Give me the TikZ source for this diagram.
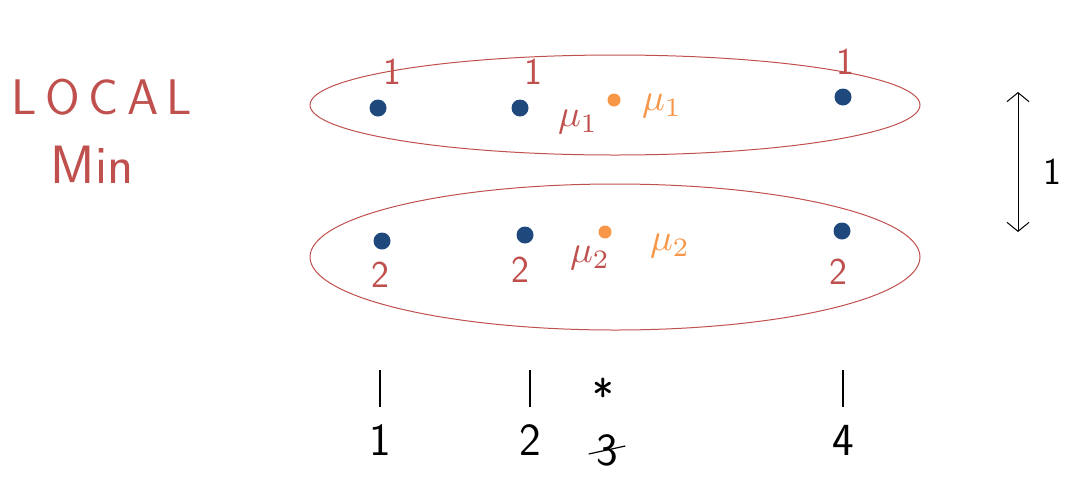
\documentclass[tikz,border=0pt]{standalone}
\usetikzlibrary{arrows.meta}
\definecolor{inkred}{RGB}{192,80,77}
\definecolor{inkblue}{RGB}{31,73,125}
\definecolor{inkorange}{RGB}{247,150,70}
\tikzset{
	cluster/.style={draw=inkred,line width=1pt},
	sample/.style={circle,fill=inkblue,inner sep=0pt,minimum size=17pt},
	centre/.style={circle,fill=inkorange,inner sep=0pt,minimum size=13pt},
	lab/.style={text=inkred,font=\sffamily\fontsize{38}{38}\selectfont},
	mulab/.style={scale=3.8,transform shape,inner sep=0pt},
	axlab/.style={font=\sffamily\fontsize{46}{46}\selectfont}
}
\begin{document}
\begin{tikzpicture}[x=1pt,y=-1pt]
		\useasboundingbox (0,0) rectangle (1068,483);
		% Titre
		\node[text=inkred,font=\sffamily\fontsize{50}{50}\selectfont] (local) at (102,97) {L\,O\,C\,A\,L};
		\node[text=inkred,font=\sffamily\fontsize{54}{54}\selectfont] (min) at (92,165) {Min};

		% Groupes
		\draw[cluster] (615,105) ellipse (305 and 50);
		\draw[cluster] (615,257) ellipse (305 and 73);

		% Points
		\foreach \x/\y/\n in {378/108/a,520/108/b,843/97/c,382/241/d,525/235/e,842/231/f}{
			\node[sample] (p\n) at (\x,\y) {};
			}
		\foreach \x/\y in {392/72,533/72,845/62}{
			\node[lab] at (\x,\y) {1};
			}
		\foreach \x/\y in {380/275,520/270,838/272}{
			\node[lab] at (\x,\y) {2};
			}

		% Centres
		\node[centre] (c1) at (614,100) {};
		\node[centre] (c2) at (605,232) {};
		\node[mulab,text=inkred] (m1) at (578,122) {$\mu_1$};
		\node[mulab,text=inkorange] (o1) at (662,106) {$\mu_1$};
		\node[mulab,text=inkred] (m2) at (590,258) {$\mu_2$};
		\node[mulab,text=inkorange] (o2) at (670,246) {$\mu_2$};

		% Distance
		\coordinate (top) at (1018,92);
		\coordinate (bot) at (1018,232);
		\draw[line width=1pt,{Straight Barb[length=9pt,width=22pt]}-{Straight Barb[length=9pt,width=22pt]}] (top) -- (bot);
		\node[axlab,font=\sffamily\fontsize{38}{38}\selectfont] (d) at (1052,172) {1};

		% Axe
		\foreach \x/\t in {380/1,530/2,843/4}{
			\draw[line width=1.2pt] (\x,370) -- (\x,407);
			\node[axlab] (x\t) at (\x,440) {\t};
			}
		\node[axlab] (star) at (603,395) {*};
		\node[axlab] (x3) at (607,450) {3};
		\draw[line width=1.2pt] ([xshift=-4pt,yshift=-4pt]x3.west) -- ([xshift=4pt,yshift=4pt]x3.east);
\end{tikzpicture}
\end{document}
